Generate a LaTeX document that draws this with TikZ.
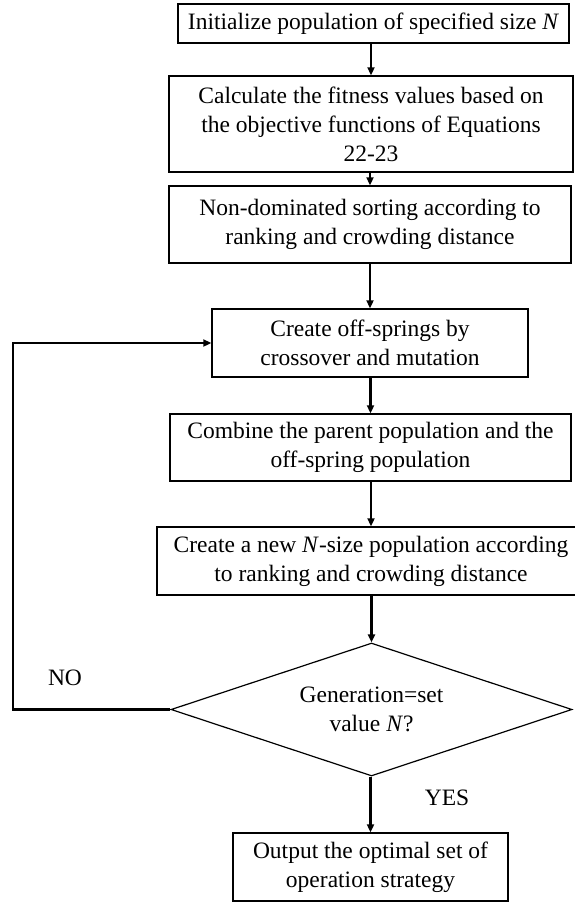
\documentclass[tikz,border=0pt]{standalone}
\usepackage{fontspec}
\setmainfont{Liberation Serif}
\usetikzlibrary{shapes.geometric,arrows.meta}
\begin{document}
\begin{tikzpicture}[x=1pt,y=-1pt,
  procbox/.style={draw,line width=1.4pt,rectangle,inner sep=0pt,align=center,
    font=\fontsize{23.5}{29}\selectfont},
  decbox/.style={draw,line width=1.2pt,diamond,aspect=3,inner sep=0pt,align=center,
    minimum width=401pt,minimum height=133pt,font=\fontsize{23.5}{29}\selectfont},
  flow/.style={line width=2.3pt,-{Triangle[length=8pt,width=7pt]}},
  loopline/.style={line width=2.8pt,-{Triangle[length=8pt,width=7pt]}},
  lbl/.style={font=\fontsize{23.5}{29}\selectfont}]
\useasboundingbox (0,0) rectangle (574,902);
\node[procbox,minimum width=391pt,minimum height=39pt] (b1) at (373.5,23.5)
  {Initialize population of specified size \textit{N}};
\node[procbox,minimum width=404pt,minimum height=96pt] (b2) at (371,124)
  {Calculate the fitness values based on\\the objective functions of Equations\\22-23};
\node[procbox,minimum width=402pt,minimum height=77pt] (b3) at (370,224.5)
  {Non-dominated sorting according to\\ranking and crowding distance};
\node[procbox,minimum width=316pt,minimum height=68pt] (b4) at (370,343)
  {Create off-springs by\\crossover and mutation};
\node[procbox,minimum width=401pt,minimum height=67pt] (b5) at (370.5,447.5)
  {Combine the parent population and the\\off-spring population};
\node[procbox,minimum width=428pt,minimum height=68pt] (b6) at (371,561)
  {Create a new \textit{N}-size population according\\to ranking and crowding distance};
\node[decbox] (dia) at (371.5,709.5) {Generation=set\\value \textit{N}?};
\node[procbox,minimum width=275pt,minimum height=68pt] (b7) at (370.5,867)
  {Output the optimal set of\\operation strategy};
\node[lbl] (no) at (65,678) {NO};
\node[lbl] (yes) at (447,798) {YES};
\coordinate (lc) at (13,709.5);
\draw[flow] (b1.south -| b2.north) -- (b2.north);
\draw[flow] (b2.south -| b3.north) -- (b3.north);
\draw[flow] (b3.south -| b4.north) -- (b4.north);
\draw[flow] (b4.south -| b5.north) -- (b5.north);
\draw[flow] (b5.south -| b6.north) -- (b6.north);
\draw[flow] (b6.south -| dia.north) -- (dia.north);
\draw[flow] (dia.south -| b7.north) -- (b7.north);
\draw[loopline] (dia.west) -- (lc) |- (b4.west);
\end{tikzpicture}
\end{document}
